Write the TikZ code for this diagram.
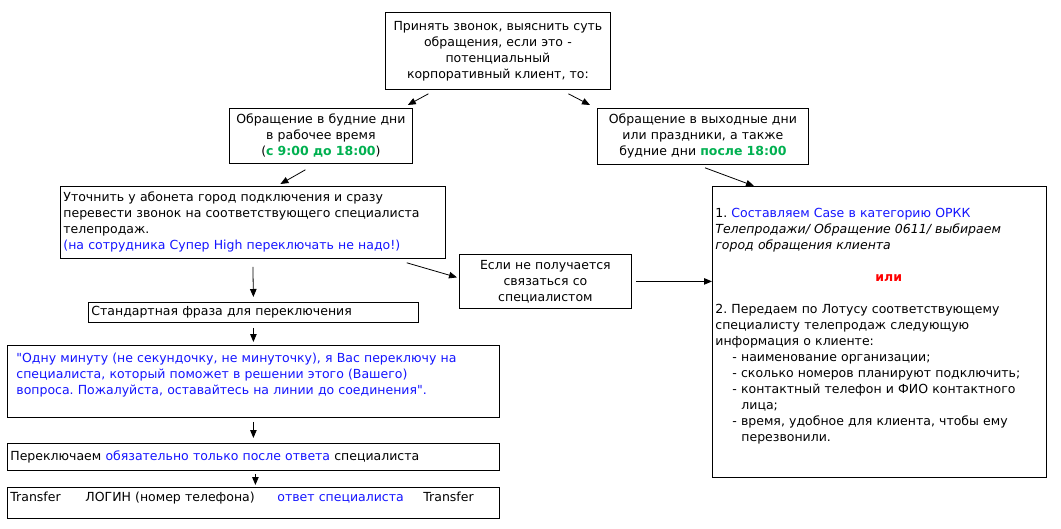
\documentclass[tikz,border=0pt]{standalone}
\usepackage{fontspec}
\setmainfont{DejaVu Sans}[Ligatures=TeXOff]
\RequirePackage{xcolor}
\definecolor{okgreen}{RGB}{0,176,80}
\definecolor{noteblue}{RGB}{20,20,255}
\definecolor{orred}{RGB}{255,0,0}
\usetikzlibrary{calc}
\usetikzlibrary{arrows.meta}
\frenchspacing
\tikzset{
  box/.style={draw, line width=0.8pt, anchor=north west, inner xsep=3pt, inner ysep=0pt,
    font=\fontsize{12.5}{16}\selectfont},
  arr/.style={-{Triangle[length=8pt,width=6.5pt]}, line width=0.8pt}
}

\begin{document}
\begin{tikzpicture}[x=1pt, y=-1pt]
  \useasboundingbox (0,0) rectangle (1061,528);

  \node [box, text width=219pt, align=center, minimum height=77pt] (call) at (385,12)
    {Принять звонок, выяснить суть\\ обращения, если это -\\ потенциальный\\ корпоративный клиент, то:};
  \node [box, text width=177pt, align=center, minimum height=55pt] (workday) at (229,108)
    {Обращение в будние дни\\ в рабочее время\\ ({\color{okgreen}\bfseries с 9:00 до 18:00})};
  \node [box, text width=205pt, align=center, minimum height=56pt] (weekend) at (597,108)
    {Обращение в выходные дни\\ или праздники, а также\\ будние дни {\color{okgreen}\bfseries после 18:00}};
  \node [box, text width=379pt, align=left, minimum height=72pt] (clarify) at (60,186)
    {Уточнить у абонета город подключения и сразу\\ перевести звонок на соответствующего специалиста\\ телепродаж.\\ {\color{noteblue}(на сотрудника Супер High переключать не надо!)}};
  \node [box, text width=166pt, align=center, minimum height=54pt] (fail) at (459,254)
    {Если не получается\\ связаться со\\ специалистом};
  \node [box, text width=328pt, align=left, minimum height=291pt] (case) at (712,186)
    {\mbox{}\\
     1. {\color{noteblue}Составляем Case в категорию ОРКК}\\
     \textit{Телепродажи/ Обращение 0611/ выбираем}\\
     \textit{город обращения клиента}\\
     \mbox{}\\
     \hspace*{160pt}{\color{orred}\bfseries или}\\
     \mbox{}\\
     2. Передаем по Лотусу соответствующему\\
     специалисту телепродаж следующую\\
     информация о клиенте:\\
     \hspace*{17pt}- наименование организации;\\
     \hspace*{17pt}- сколько номеров планируют подключить;\\
     \hspace*{17pt}- контактный телефон и ФИО контактного\\
     \hspace*{26pt}лица;\\
     \hspace*{17pt}- время, удобное для клиента, чтобы ему\\
     \hspace*{26pt}перезвонили.\\[5pt]
     \mbox{}};
  \node [box, text width=324pt, align=left, minimum height=20pt] (phrase) at (88,302)
    {Стандартная фраза для переключения};
  \node [box, inner xsep=9pt, text width=474pt, align=left, minimum height=72pt,
    text=noteblue] (quote) at (7,345)
    {"Одну минуту (не секундочку, не минуточку), я Вас переключу на\\ специалиста, который поможет в решении этого (Вашего)\\ вопроса. Пожалуйста, оставайтесь на линии до соединения".\\ \mbox{}};
  \node [box, text width=486pt, align=left, minimum height=27pt] (switch) at (7,443)
    {Переключаем {\color{noteblue}обязательно только после ответа} специалиста};
  \node [box, text width=486pt, align=left, minimum height=31pt, text depth=12pt] (transfer) at (7,487)
    {\makebox[75pt][l]{Transfer}\makebox[192pt][l]{ЛОГИН (номер телефона)}\makebox[146pt][l]{\color{noteblue}ответ специалиста}Transfer};

  \draw [arr] ($(call.south)+(-69.5,4)$) -- ($(workday.north east)+(-5,-3)$);
  \draw [arr] ($(call.south)+(70.5,4)$) -- ($(weekend.north west)+(-7,-3)$);
  \draw [arr] ($(workday.south)+(-15.5,6)$) -- ($(clarify.north)+(27.5,-2)$);
  \draw [arr] ($(weekend.south west)+(108,3)$) -- ($(case.north west)+(42,0)$);
  \draw [arr] ($(clarify.south east)+(-39,4)$) -- ($(fail.west)+(-2,-4)$);
  \draw [arr] ($(fail.east)+(4,0)$) -- (fail.east -| case.west);
  \draw [arr] ($(clarify.south)+(0,8)$) -- ($(phrase.north)+(0,-5)$);
  \draw [arr] ($(phrase.south)+(0,5)$) -- ($(quote.north)+(0,-3)$);
  \draw [arr] ($(quote.south)+(0,4)$) -- ($(switch.north)+(0,-5)$);
  \draw [arr] ($(switch.south)+(2,3)$) -- ($(transfer.north)+(2,-2)$);
\end{tikzpicture}
\end{document}
